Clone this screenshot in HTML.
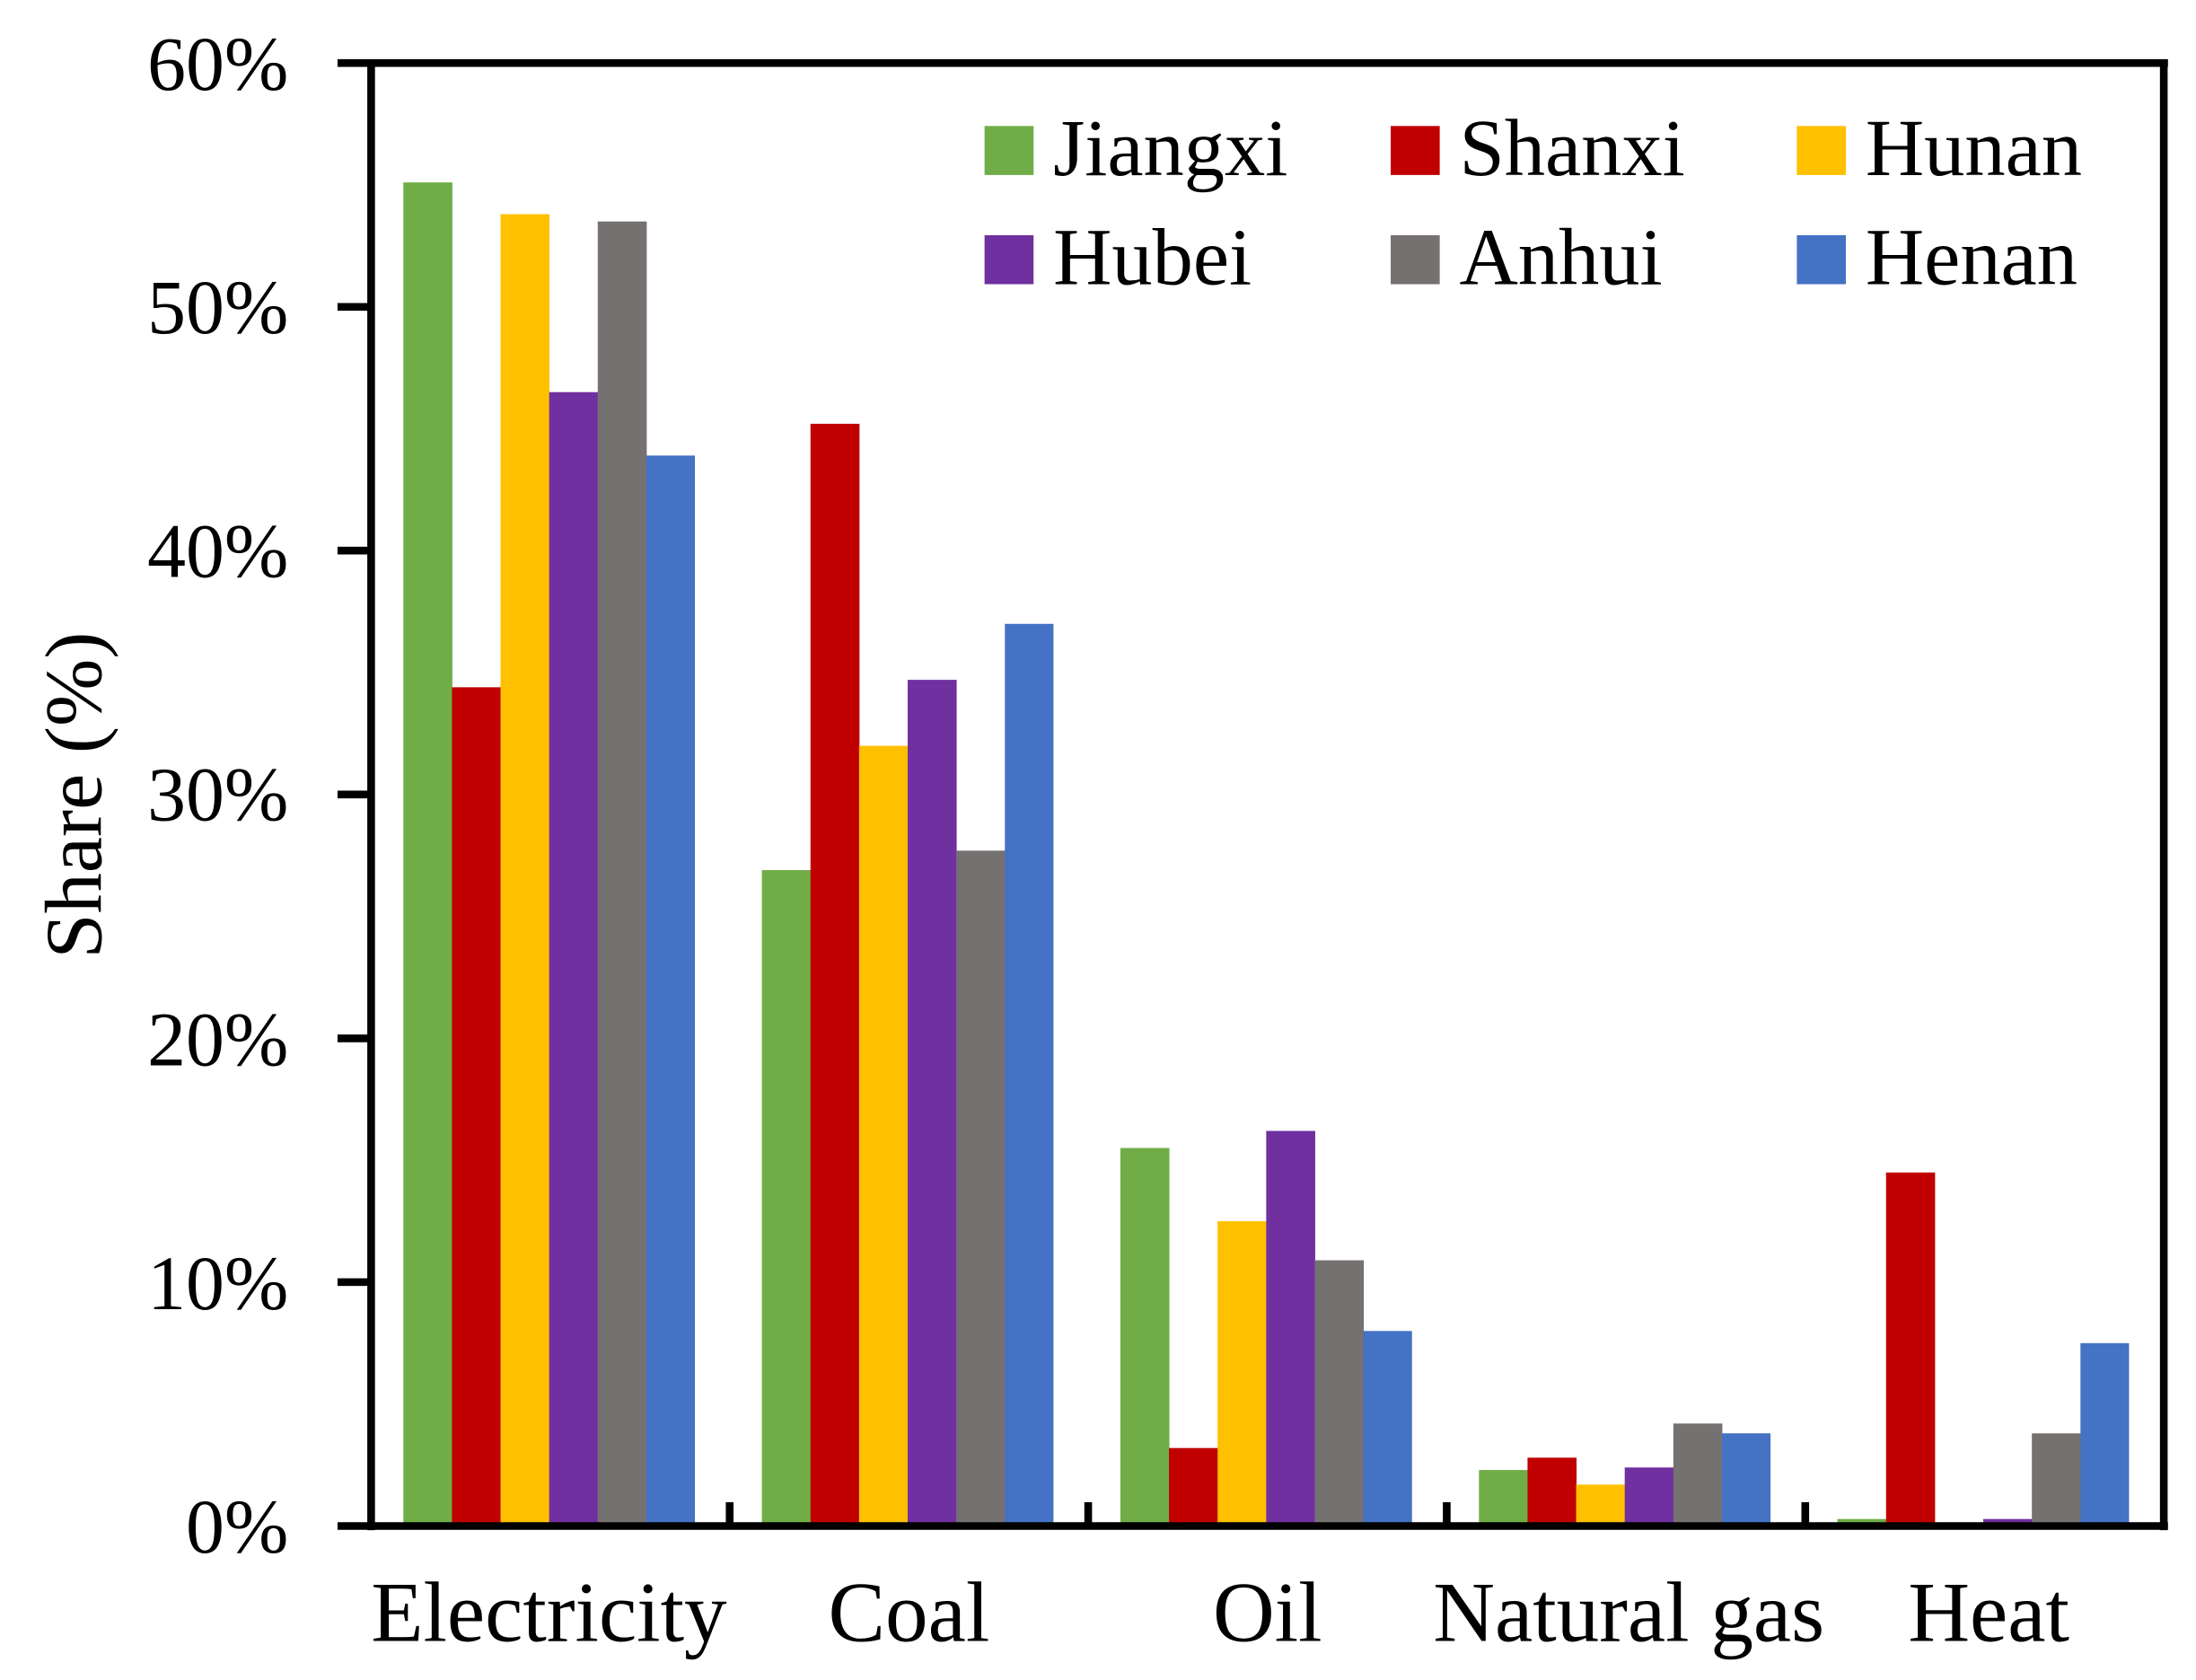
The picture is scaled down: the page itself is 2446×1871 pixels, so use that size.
<!DOCTYPE html>
<html><head><meta charset="utf-8"><style>html,body{margin:0;padding:0;background:#fff}svg{display:block}</style></head>
<body>
<svg width="2446" height="1871" viewBox="0 0 1568 1200" preserveAspectRatio="none" xmlns="http://www.w3.org/2000/svg" font-family="'Liberation Serif', serif">
<rect width="1568" height="1200" fill="#fff"/>
<g>
<rect x="288" y="130.3" width="35" height="960" fill="#70AD47"/>
<rect x="322.7" y="490.9" width="35" height="600" fill="#C00000"/>
<rect x="357.4" y="153" width="35" height="937" fill="#FFC000"/>
<rect x="392.1" y="280.1" width="35" height="810" fill="#7030A0"/>
<rect x="426.8" y="158.2" width="35" height="932" fill="#767171"/>
<rect x="461.5" y="325.4" width="34.7" height="765" fill="#4472C4"/>
<rect x="544" y="621.5" width="35" height="469" fill="#70AD47"/>
<rect x="578.7" y="302.7" width="35" height="788" fill="#C00000"/>
<rect x="613.4" y="532.7" width="35" height="558" fill="#FFC000"/>
<rect x="648.1" y="485.6" width="35" height="605" fill="#7030A0"/>
<rect x="682.8" y="607.6" width="35" height="483" fill="#767171"/>
<rect x="717.5" y="445.6" width="34.7" height="645" fill="#4472C4"/>
<rect x="800" y="820" width="35" height="270" fill="#70AD47"/>
<rect x="834.7" y="1034.3" width="35" height="56" fill="#C00000"/>
<rect x="869.4" y="872.3" width="35" height="218" fill="#FFC000"/>
<rect x="904.1" y="807.8" width="35" height="283" fill="#7030A0"/>
<rect x="938.8" y="900.2" width="35" height="190" fill="#767171"/>
<rect x="973.5" y="950.7" width="34.7" height="140" fill="#4472C4"/>
<rect x="1056" y="1050" width="35" height="40" fill="#70AD47"/>
<rect x="1090.7" y="1041.2" width="35" height="49" fill="#C00000"/>
<rect x="1125.4" y="1060.4" width="35" height="30" fill="#FFC000"/>
<rect x="1160.1" y="1048.2" width="35" height="42" fill="#7030A0"/>
<rect x="1194.8" y="1016.8" width="35" height="74" fill="#767171"/>
<rect x="1229.5" y="1023.8" width="34.7" height="67" fill="#4472C4"/>
<rect x="1312" y="1085" width="35" height="6" fill="#70AD47"/>
<rect x="1346.7" y="837.5" width="35" height="253" fill="#C00000"/>
<rect x="1416.1" y="1085" width="35" height="6" fill="#7030A0"/>
<rect x="1450.8" y="1023.8" width="35" height="67" fill="#767171"/>
<rect x="1485.5" y="959.4" width="34.7" height="131" fill="#4472C4"/>
</g>
<g stroke="#000" stroke-width="5.5" fill="none">
<line x1="265" y1="43" x2="265" y2="1093"/>
<line x1="1545" y1="43" x2="1545" y2="1093"/>
<line x1="241" y1="45" x2="1548" y2="45"/>
<line x1="241" y1="1090" x2="1548" y2="1090"/>
<line x1="241" y1="219.2" x2="265" y2="219.2"/>
<line x1="241" y1="393.3" x2="265" y2="393.3"/>
<line x1="241" y1="567.5" x2="265" y2="567.5"/>
<line x1="241" y1="741.7" x2="265" y2="741.7"/>
<line x1="241" y1="915.8" x2="265" y2="915.8"/>
<line x1="521" y1="1073" x2="521" y2="1090"/>
<line x1="777" y1="1073" x2="777" y2="1090"/>
<line x1="1033" y1="1073" x2="1033" y2="1090"/>
<line x1="1289" y1="1073" x2="1289" y2="1090"/>
</g>
<g font-size="55" text-anchor="end" fill="#000">
<text x="206" y="64">60%</text>
<text x="206" y="238">50%</text>
<text x="206" y="412">40%</text>
<text x="206" y="586">30%</text>
<text x="206" y="761">20%</text>
<text x="206" y="935">10%</text>
<text x="206" y="1109">0%</text>
</g>
<text transform="translate(72,568) rotate(-90)" font-size="58" text-anchor="middle">Share (%)</text>
<g font-size="61" text-anchor="middle">
<text x="392" y="1172">Electricity</text>
<text x="649" y="1172">Coal</text>
<text x="905" y="1172">Oil</text>
<text x="1163" y="1172">Natural gas</text>
<text x="1420" y="1172">Heat</text>
</g>
<g font-size="58">
<rect x="703" y="90" width="35" height="35" fill="#70AD47"/><text x="752" y="125">Jiangxi</text>
<rect x="993" y="90" width="35" height="35" fill="#C00000"/><text x="1042" y="125">Shanxi</text>
<rect x="1283" y="90" width="35" height="35" fill="#FFC000"/><text x="1332" y="125">Hunan</text>
<rect x="703" y="168" width="35" height="35" fill="#7030A0"/><text x="752" y="203">Hubei</text>
<rect x="993" y="168" width="35" height="35" fill="#767171"/><text x="1042" y="203">Anhui</text>
<rect x="1283" y="168" width="35" height="35" fill="#4472C4"/><text x="1332" y="203">Henan</text>
</g>
</svg>
</body></html>
